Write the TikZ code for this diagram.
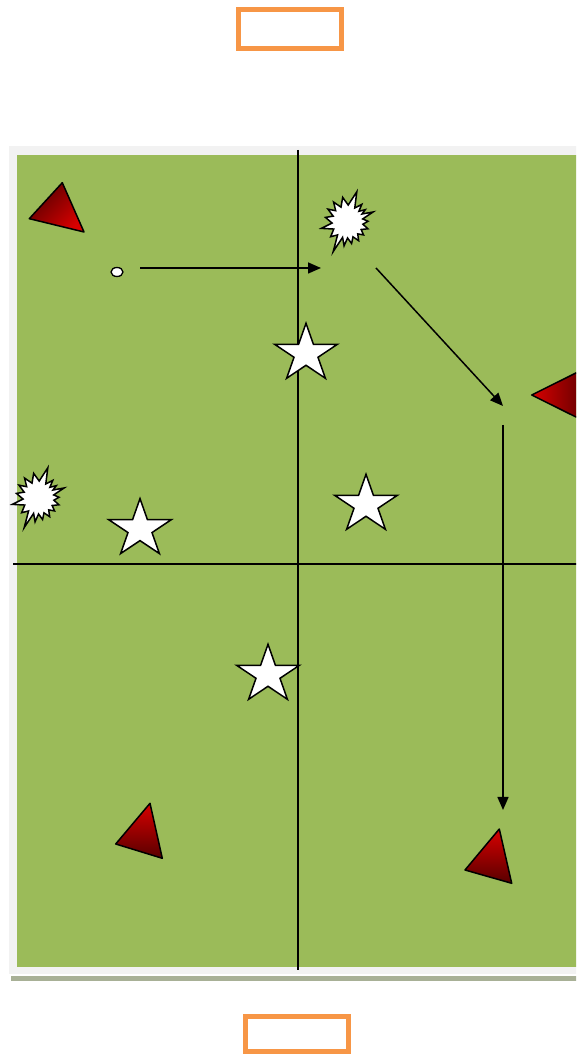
\documentclass[tikz,border=0pt]{standalone}
\usetikzlibrary{arrows.meta,shapes.geometric}
\definecolor{fieldgreen}{HTML}{9BBB59}
\definecolor{framegray}{HTML}{F2F2F2}
\definecolor{shadowgray}{HTML}{A8B096}
\definecolor{goalorange}{HTML}{F79646}
\definecolor{conedark}{HTML}{580000}
\definecolor{conered}{HTML}{D80000}
\tikzset{
  goalbox/.style={draw=goalorange, line width=5pt},
  fieldline/.style={draw=black, line width=1.8pt},
  runarrow/.style={draw=black, line width=1.5pt, -{Triangle[length=13pt,width=11pt]}},
  conebox/.style={draw=black, line width=1.5pt, line join=round},
  starbox/.style={draw=black, fill=white, line width=1.5pt, line join=miter},
  boom/.style={draw=black, fill=white, line width=1.5pt, line join=miter},
}
\newcommand{\mystar}[2]{%
  \begin{scope}[shift={(#1,#2)}, xscale=33, yscale=30.4]
    \path[starbox] (90:1) -- (126:0.382) -- (162:1) -- (198:0.382) -- (234:1) -- (270:0.382)
      -- (306:1) -- (342:0.382) -- (18:1) -- (54:0.382) -- cycle;
  \end{scope}}
\newcommand{\myboom}[2]{%
  \begin{scope}[shift={(#1,#2)}]
    \path[boom] (72:31.8) -- (61:16) -- (50:23) -- (42:16) -- (34:22) -- (28:17) -- (21:27.9)
      -- (11:16) -- (2:21) -- (-8:16) -- (-18:22) -- (-28:16) -- (-38:21) -- (-48:16)
      -- (-58:22) -- (-68:16) -- (-78:22) -- (-88:16) -- (-97:24) -- (-106:16) -- (-115:32.7)
      -- (-126:16) -- (-138:22) -- (-152:15) -- (-166:26.4) -- (-176:15) -- (168:22)
      -- (157:15) -- (146:23) -- (135:16) -- (124:24) -- (112:16) -- (100:25) -- (86:17) -- cycle;
  \end{scope}}
\begin{document}
\begin{tikzpicture}[x=1pt,y=1pt]
\useasboundingbox (0,0) rectangle (576,1054);
\begin{scope}
\clip (0,0) rectangle (576,1054);
% goals
\path[goalbox] (238,1005.5) rectangle (341,1044.2);
\path[goalbox] (245.5,2.5) rectangle (348.5,37.5);
% field
\fill[shadowgray] (11,73) rectangle (590,78);
\fill[framegray] (9,80) rectangle (590,908);
\fill[fieldgreen] (17,87) rectangle (590,899.3);
\coordinate (vtop) at (298,904);
\coordinate (vbot) at (298,84);
\coordinate (hl) at (13,490);
\coordinate (hr) at (590,490);
\path[fieldline] (vtop) -- (vbot);
\path[fieldline] (hl) -- (hr);
% cones
\shadedraw[conebox, left color=conedark, right color=conered, shading angle=45]
  (62.3,871.3) -- (29.3,835.3) -- (84,822) -- cycle;
\shadedraw[conebox, left color=conered, right color=conedark]
  (531.7,659) -- (590,688) -- (590,630) -- cycle;
\shadedraw[conebox, top color=conered, bottom color=conedark]
  (150,250.7) -- (115.7,210) -- (162.3,195.7) -- cycle;
\shadedraw[conebox, top color=conered, bottom color=conedark]
  (499.3,225) -- (465,184) -- (511.7,170.7) -- cycle;
% stars
\mystar{306}{700.3}
\mystar{366}{549.3}
\mystar{140}{525}
\mystar{268}{379.3}
% explosions
\myboom{347}{832}
\myboom{38}{556}
% ball
\node[draw=black, fill=white, line width=1.3pt, ellipse, minimum width=12pt, minimum height=9pt, inner sep=0pt] (ball) at (117,782) {};
% runs
\coordinate (a1s) at (140,786);
\coordinate (a1e) at (321,786);
\coordinate (a2s) at (376,786);
\coordinate (a2e) at (503,648);
\coordinate (a3s) at (503,629);
\coordinate (a3e) at (503,244);
\path[runarrow] (a1s) -- (a1e);
\path[runarrow] (a2s) -- (a2e);
\path[runarrow] (a3s) -- (a3e);
\end{scope}
\end{tikzpicture}
\end{document}
